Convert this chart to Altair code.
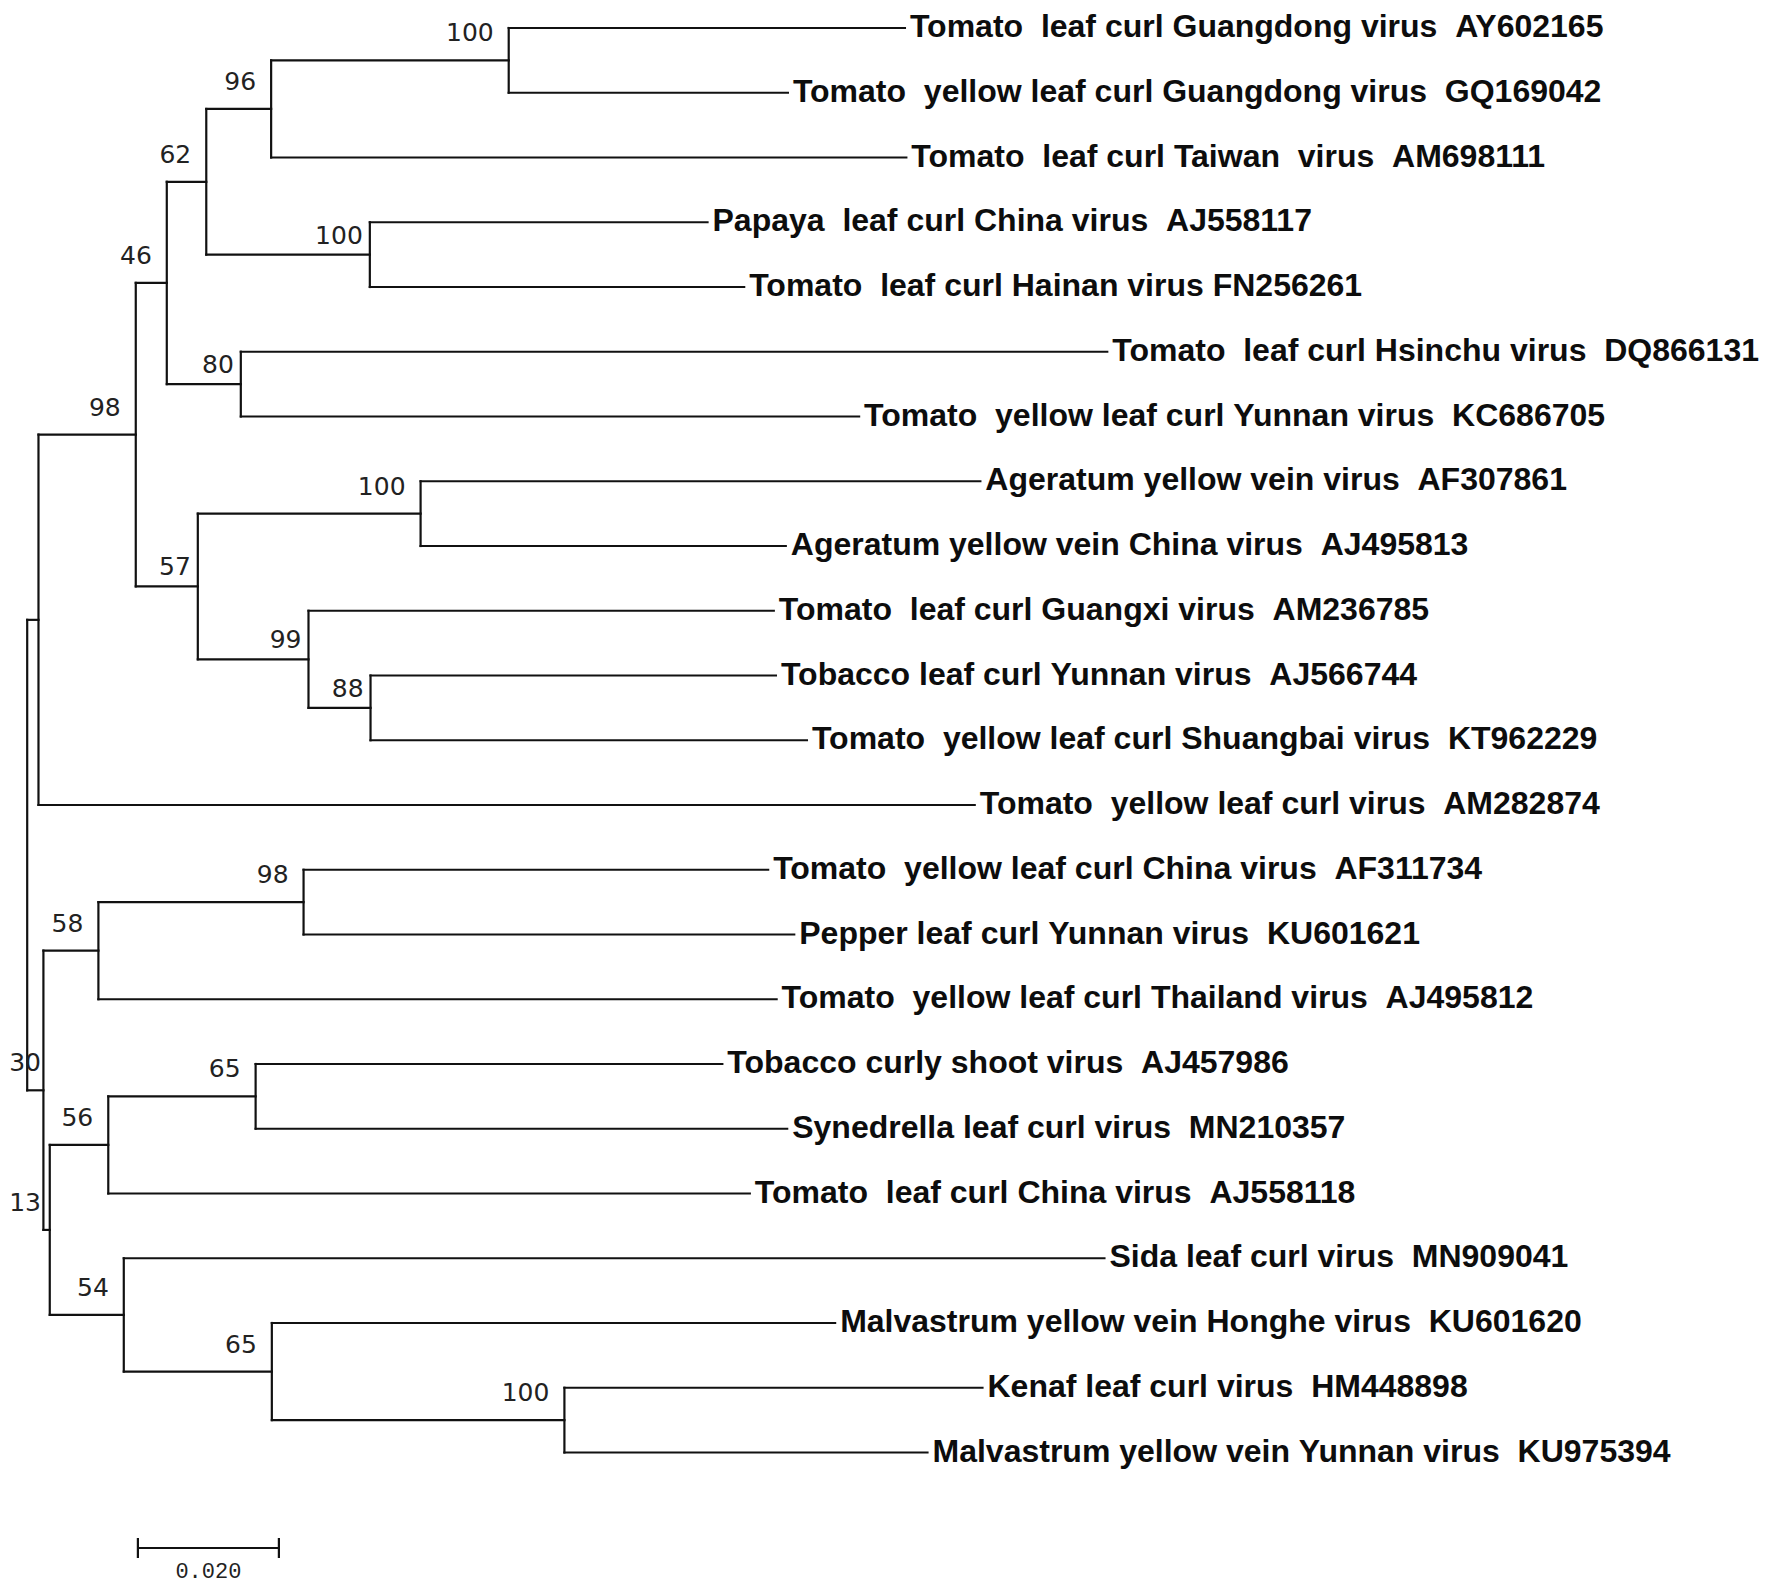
import altair as alt
import pandas as pd

# ---- leaves (top to bottom) ----
leaf_names = [
    "Tomato  leaf curl Guangdong virus",
    "Tomato  yellow leaf curl Guangdong virus",
    "Tomato  leaf curl Taiwan  virus",
    "Papaya  leaf curl China virus",
    "Tomato  leaf curl Hainan virus",
    "Tomato  leaf curl Hsinchu virus",
    "Tomato  yellow leaf curl Yunnan virus",
    "Ageratum yellow vein virus",
    "Ageratum yellow vein China virus",
    "Tomato  leaf curl Guangxi virus",
    "Tobacco leaf curl Yunnan virus",
    "Tomato  yellow leaf curl Shuangbai virus",
    "Tomato  yellow leaf curl virus",
    "Tomato  yellow leaf curl China virus",
    "Pepper leaf curl Yunnan virus",
    "Tomato  yellow leaf curl Thailand virus",
    "Tobacco curly shoot virus",
    "Synedrella leaf curl virus",
    "Tomato  leaf curl China virus",
    "Sida leaf curl virus",
    "Malvastrum yellow vein Honghe virus",
    "Kenaf leaf curl virus",
    "Malvastrum yellow vein Yunnan virus",
]
leaf_acc = [
    "AY602165", "GQ169042", "AM698111", "AJ558117", "FN256261", "DQ866131",
    "KC686705", "AF307861", "AJ495813", "AM236785", "AJ566744", "KT962229",
    "AM282874", "AF311734", "KU601621", "AJ495812", "AJ457986", "MN210357",
    "AJ558118", "MN909041", "KU601620", "HM448898", "KU975394",
]
leaf_sep = ["  "] * len(leaf_acc)
leaf_sep[4] = " "
leaf_parent = [
    "n100a", "n100a", "n96", "n100b", "n100b", "n80", "n80", "n100c", "n100c",
    "n99", "n88", "n88", "nA", "n98b", "n98b", "n58", "n65a", "n65a", "n56",
    "n54", "n65b", "n100d", "n100d",
]
leaf_len = [
    0.0562, 0.0396, 0.0901, 0.0479, 0.0531, 0.1229, 0.0877, 0.0794, 0.0518,
    0.0660, 0.0575, 0.0619, 0.1328, 0.0659, 0.0696, 0.0962, 0.0662, 0.0754,
    0.0910, 0.1391, 0.0799, 0.0593, 0.0515,
]

# ---- internal nodes (parents listed before children) ----
node_ids = ["root", "nA", "n98", "n46", "n62", "n96", "n100a", "n100b", "n80",
            "n57", "n100c", "n99", "n88", "n30", "n58", "n98b", "n13", "n56",
            "n65a", "n54", "n65b", "n100d"]
node_parent = [None, "root", "nA", "n98", "n46", "n62", "n96", "n62", "n46",
               "n98", "n57", "n57", "n99", "root", "n30", "n58", "n30", "n13",
               "n56", "n13", "n54", "n65b"]
node_len = [0.0, 0.0016, 0.0138, 0.0044, 0.0056, 0.0092, 0.0337, 0.0232, 0.0105,
            0.0088, 0.0316, 0.0157, 0.0088, 0.0023, 0.0078, 0.0291, 0.0009, 0.0083,
            0.0209, 0.0105, 0.0210, 0.0415]
node_boot = [None, None, 98, 46, 62, 96, 100, 100, 80, 57, 100, 99, 88, 30, 58,
             98, 13, 56, 65, 54, 65, 100]

scale_len = 0.020
scale_label = "0.020"

# bootstrap labels drawn tight against their node (placement style only)
tight_labels = {"n100b", "n80", "n57", "n99", "n88"}

# ---- build tree geometry ----
depth = {}
for nid, par, ln in zip(node_ids, node_parent, node_len):
    depth[nid] = 0.0 if par is None else depth[par] + ln

children_y = {nid: [] for nid in node_ids}
for i, par in enumerate(leaf_parent):
    children_y[par].append(float(i))
node_y = {}
for nid, par in reversed(list(zip(node_ids, node_parent))):
    ys_ = children_y[nid]
    node_y[nid] = (min(ys_) + max(ys_)) / 2
    if par is not None:
        children_y[par].append(node_y[nid])

segs = []
for i, (par, ln) in enumerate(zip(leaf_parent, leaf_len)):
    segs.append(dict(x=depth[par], x2=depth[par] + ln, y=float(i), y2=float(i)))
for nid, par in zip(node_ids, node_parent):
    ys_ = children_y[nid]
    segs.append(dict(x=depth[nid], x2=depth[nid], y=min(ys_), y2=max(ys_)))
    if par is not None:
        segs.append(dict(x=depth[par], x2=depth[nid], y=node_y[nid], y2=node_y[nid]))
seg_df = pd.DataFrame(segs)

NB = "\u00a0"
leaf_df = pd.DataFrame({
    "x": [depth[p] + l for p, l in zip(leaf_parent, leaf_len)],
    "y": [float(i) for i in range(len(leaf_names))],
    "label": [(n + s + a).replace(" ", NB) for n, s, a in zip(leaf_names, leaf_sep, leaf_acc)],
})

# ---- scales ----
W, H = 1754, 1576
PX_PER_UNIT = 7050.0
ROW_PX = 64.75
TOP_PX = 20.0
x0 = -19.2 / PX_PER_UNIT
xs = alt.Scale(domain=[x0, x0 + W / PX_PER_UNIT], nice=False, zero=False)
ys = alt.Scale(domain=[-TOP_PX / ROW_PX, (H - TOP_PX) / ROW_PX], nice=False, zero=False, reverse=True)

BOOT_FS = 25
rows_normal, rows_tight = [], []
for n, b in zip(node_ids, node_boot):
    if b is None:
        continue
    lab = str(b)
    if n in tight_labels:
        rows_tight.append(dict(x=depth[n], y=node_y[n], label=lab))
    else:
        # keep the label inside the drawing: right edge no further left than its width
        min_right = x0 + (0.64 * BOOT_FS * len(lab) + 1) / PX_PER_UNIT
        xr = max(depth[n] - 15 / PX_PER_UNIT, min_right)
        rows_normal.append(dict(x=xr, y=node_y[n], label=lab))
boot_df = pd.DataFrame(rows_normal)
boot_tight_df = pd.DataFrame(rows_tight)

n_leaves = len(leaf_names)
bar_x0 = 0.0157
bar_y = n_leaves + 0.475
tick_half = 10 / ROW_PX
scale_df = pd.DataFrame([
    dict(x=bar_x0, x2=bar_x0 + scale_len, y=bar_y, y2=bar_y),
    dict(x=bar_x0, x2=bar_x0, y=bar_y - tick_half, y2=bar_y + tick_half),
    dict(x=bar_x0 + scale_len, x2=bar_x0 + scale_len, y=bar_y - tick_half, y2=bar_y + tick_half),
])
scale_txt = pd.DataFrame([dict(x=bar_x0 + scale_len / 2, y=bar_y, label=scale_label)])

X = alt.X("x:Q", scale=xs, axis=None)
Y = alt.Y("y:Q", scale=ys, axis=None)

rules = alt.Chart(seg_df).mark_rule(color="#111111", strokeWidth=2.2, strokeCap="square").encode(
    x=X, x2="x2:Q", y=Y, y2="y2:Q")

leaf_text = alt.Chart(leaf_df).mark_text(
    align="left", baseline="alphabetic", dx=5, dy=9,
    font="Liberation Sans", fontWeight="bold", fontSize=32, color="#0d0d0d"
).encode(x=X, y=Y, text="label:N")

boot_text = alt.Chart(boot_df).mark_text(
    align="right", baseline="alphabetic", dy=-19,
    font="DejaVu Sans", fontSize=BOOT_FS, color="#222222"
).encode(x=X, y=Y, text="label:N")

boot_tight = alt.Chart(boot_tight_df).mark_text(
    align="right", baseline="alphabetic", dx=-7, dy=-11,
    font="DejaVu Sans", fontSize=BOOT_FS, color="#222222"
).encode(x=X, y=Y, text="label:N")

scale_rules = alt.Chart(scale_df).mark_rule(color="#111111", strokeWidth=2.2).encode(
    x=X, x2="x2:Q", y=Y, y2="y2:Q")
scale_text = alt.Chart(scale_txt).mark_text(
    align="center", baseline="alphabetic", dy=30,
    font="Liberation Mono", fontSize=22, color="#222222"
).encode(x=X, y=Y, text="label:N")

chart = alt.layer(rules, leaf_text, boot_text, boot_tight, scale_rules, scale_text).properties(
    width=W, height=H, autosize=alt.AutoSizeParams(type="none"), padding=0
).configure_view(stroke=None)

chart.save("out.html", embed_options={"renderer": "svg", "actions": False})
